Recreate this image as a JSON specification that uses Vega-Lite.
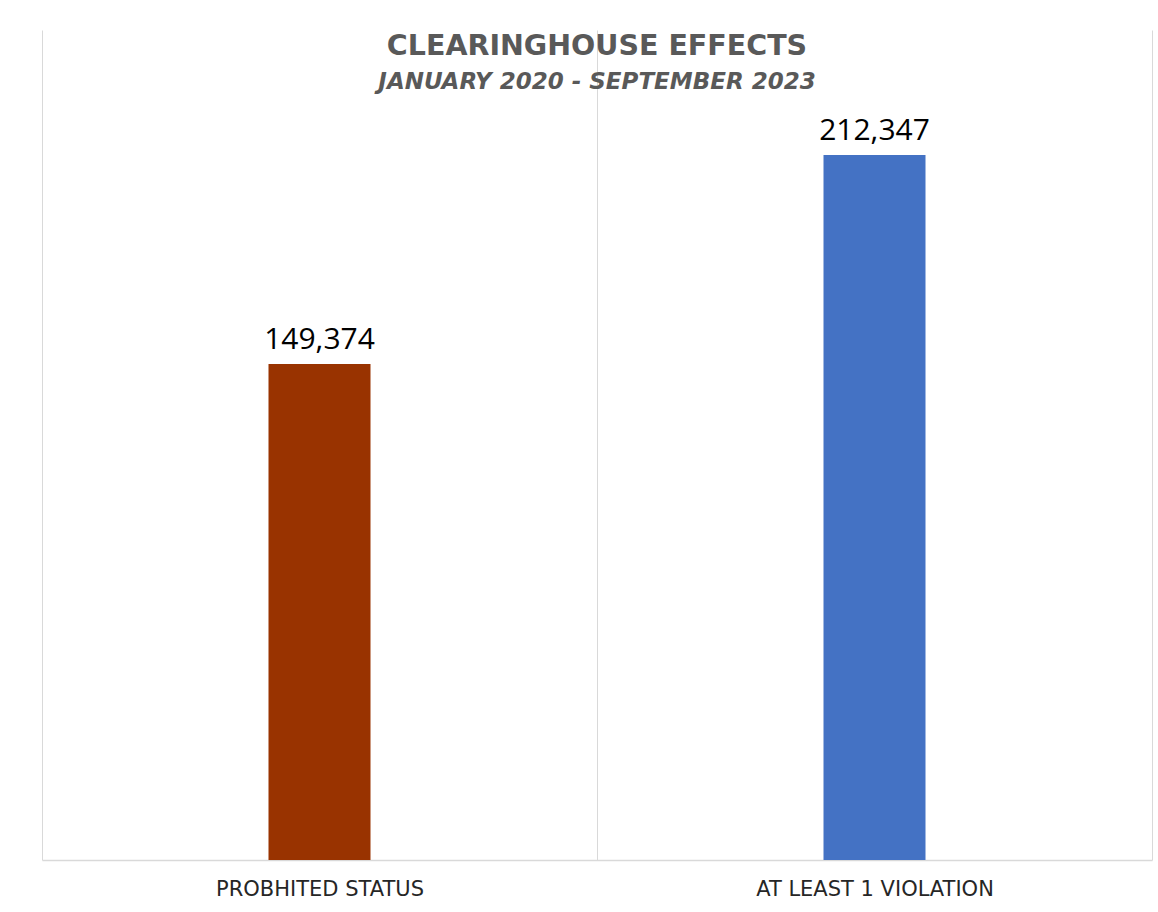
{
  "$schema": "https://vega.github.io/schema/vega-lite/v6.json",
  "autosize": "none",
  "width": 1110,
  "height": 830,
  "padding": {"left": 42, "top": 30, "right": 6, "bottom": 52},
  "background": "white",
  "config": {"view": {"stroke": null}, "font": "Open Sans"},
  "title": {
    "text": "CLEARINGHOUSE EFFECTS",
    "subtitle": "JANUARY 2020 - SEPTEMBER 2023",
    "anchor": "middle",
    "orient": "top",
    "offset": -64,
    "font": "DejaVu Sans",
    "fontSize": 28.5,
    "fontWeight": "bold",
    "color": "#595959",
    "subtitleFont": "DejaVu Sans",
    "subtitleFontSize": 23,
    "subtitleFontWeight": "bold",
    "subtitleFontStyle": "italic",
    "subtitleColor": "#595959",
    "subtitlePadding": 11
  },
  "data": {
    "values": [
      {"category": "PROBHITED STATUS", "value": 149374},
      {"category": "AT LEAST 1 VIOLATION", "value": 212347}
    ]
  },
  "encoding": {
    "x": {
      "field": "category",
      "type": "nominal",
      "sort": null,
      "scale": {"paddingInner": 0, "paddingOuter": 0},
      "axis": {
        "title": null,
        "labelAngle": 0,
        "ticks": false,
        "tickBand": "extent",
        "grid": true,
        "gridColor": "#d9d9d9",
        "gridWidth": 1,
        "domainColor": "#d9d9d9",
        "domainWidth": 1.5,
        "labelFont": "DejaVu Sans",
        "labelFontSize": 21,
        "labelLimit": 500,
        "labelColor": "#262626",
        "labelPadding": 18
      }
    },
    "y": {
      "field": "value",
      "type": "quantitative",
      "scale": {"domain": [0, 250000], "nice": false},
      "axis": null
    }
  },
  "layer": [
    {
      "mark": {"type": "bar", "width": 102},
      "encoding": {
        "color": {
          "field": "category",
          "type": "nominal",
          "scale": {"domain": ["PROBHITED STATUS", "AT LEAST 1 VIOLATION"], "range": ["#993300", "#4472C4"]},
          "legend": null
        }
      }
    },
    {
      "mark": {"type": "text", "baseline": "alphabetic", "dy": -15, "fontSize": 30, "font": "Open Sans", "color": "#000000"},
      "encoding": {
        "text": {"field": "value", "type": "quantitative", "format": ","}
      }
    }
  ]
}
